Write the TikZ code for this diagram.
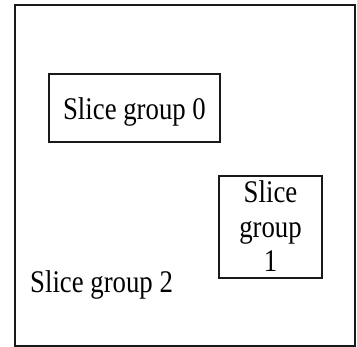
\documentclass[tikz,border=0pt]{standalone}
\usepackage{fontspec}
\setmainfont{Liberation Serif}[FakeStretch=0.85]
\begin{document}
\begin{tikzpicture}[x=1pt,y=-1pt,
  frame/.style={draw=black!90,line width=1.8pt},
  groupbox/.style={draw=black!90,line width=1.6pt,inner sep=0pt},
  label/.style={inner sep=0pt,font=\fontsize{31.5}{34.5}\selectfont}]
  \useasboundingbox (0,0) rectangle (357,347);
  % outer picture area
  \draw[frame] (15,5) rectangle (355,346);
  % slice group 0
  \node[groupbox,minimum width=171pt,minimum height=68pt] (g0) at (134.5,108) {};
  \node[label,anchor=base] (g0t) at (134.5,119.3) {Slice group 0};
  % slice group 1
  \node[groupbox,minimum width=103pt,minimum height=102pt] (g1) at (270.5,227) {};
  \node[label,align=center] (g1t) at (270.5,226.5) {Slice\\group\\1};
  % slice group 2 (remaining area)
  \node[label,anchor=base west] (g2t) at (30,293) {Slice group 2};
\end{tikzpicture}
\end{document}
